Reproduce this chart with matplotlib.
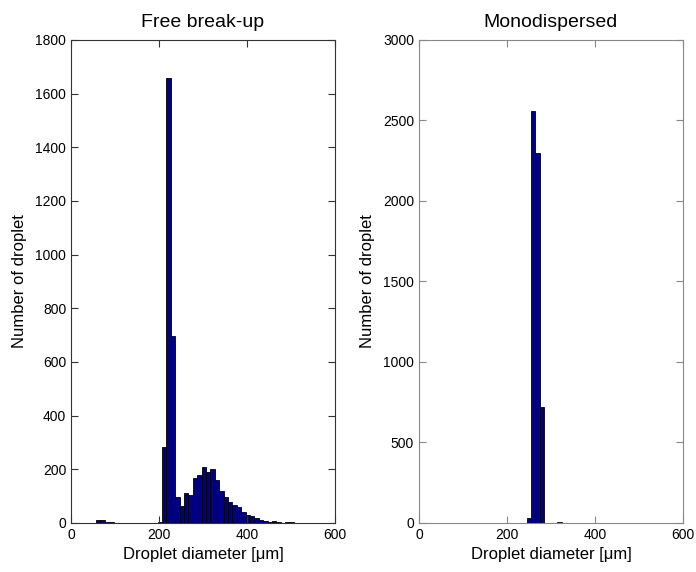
import numpy as np
import matplotlib
matplotlib.use('Agg')
import matplotlib.pyplot as plt

plt.rcParams['font.family'] = ['Liberation Sans', 'DejaVu Sans']

# Free break-up histogram (bin left edges in um, counts)
free_edges = [57, 67, 77, 87, 197, 207, 217, 227, 237, 247, 257, 267, 277, 287,
              297, 307, 317, 327, 337, 347, 357, 367, 377, 387, 397, 407, 417,
              427, 437, 447, 457, 467, 487, 497]
free_counts = [10, 12, 3, 3, 2, 282, 1660, 695, 96, 65, 111, 106, 168, 178,
               207, 190, 200, 161, 119, 98, 80, 66, 58, 42, 31, 27, 19,
               10, 9, 4, 7, 5, 2, 2]

# Monodispersed histogram
mono_edges = [245, 255, 265, 275, 315, 325, 345, 365, 385]
mono_counts = [30, 2558, 2300, 723, 3, 2, 2, 1, 1]

BIN_W = 10
BAR_COLOR = '#000080'

fig = plt.figure(figsize=(6.96, 5.72), dpi=100)
ax1 = fig.add_axes([0.102, 0.0857, 0.379, 0.8444])
ax2 = fig.add_axes([0.602, 0.0857, 0.379, 0.8444])


def draw_hist(ax, edges, counts, title, ymax, yticks, frame):
    ax.bar(edges, counts, width=BIN_W, align='edge', color=BAR_COLOR,
           edgecolor='black', linewidth=0.6)
    ax.set_xlim(0, 600)
    ax.set_ylim(0, ymax)
    ax.set_xticks([0, 200, 400, 600])
    ax.set_yticks(yticks)
    ax.tick_params(direction='in', top=True, right=True, length=5,
                   labelsize=10, color=frame)
    for s in ax.spines.values():
        s.set_color(frame)
        s.set_linewidth(0.8)
    ax.set_title(title, fontsize=14, pad=9)
    ax.set_xlabel('Droplet diameter [μm]', fontsize=12, labelpad=4)
    ax.set_ylabel('Number of droplet', fontsize=12, labelpad=6)


draw_hist(ax1, free_edges, free_counts, 'Free break-up', 1800,
          np.arange(0, 1801, 200), '#333333')
draw_hist(ax2, mono_edges, mono_counts, 'Monodispersed', 3000,
          np.arange(0, 3001, 500), '#888888')

fig.savefig('out.png', dpi=100)
